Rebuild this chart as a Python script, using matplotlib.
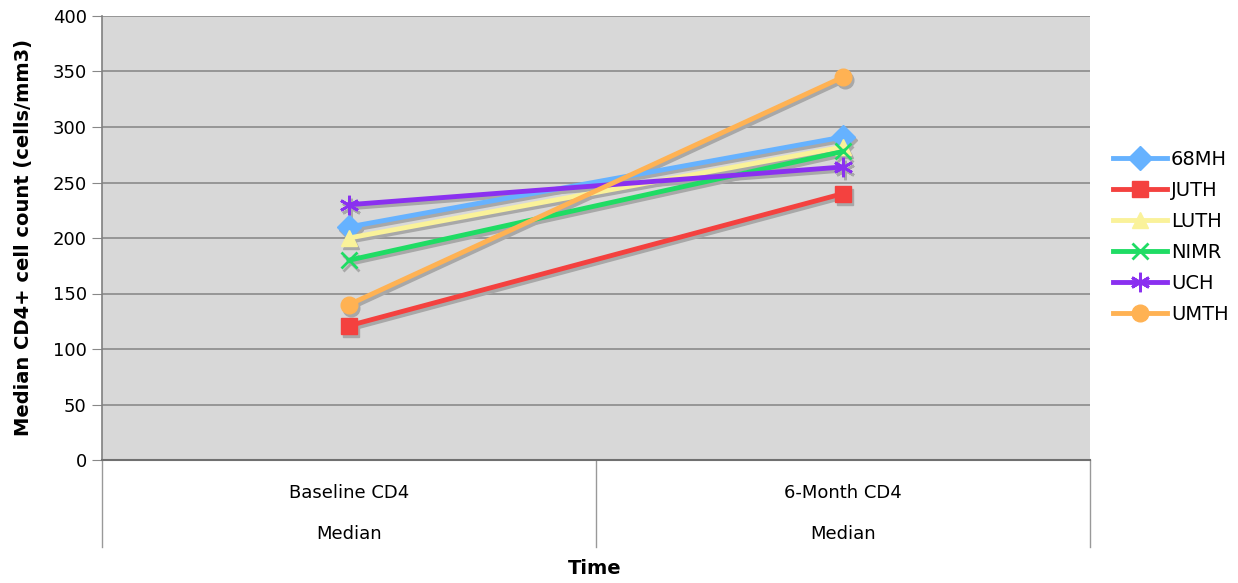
import matplotlib
matplotlib.use("Agg")
import matplotlib.pyplot as plt
import matplotlib.transforms as mtransforms
from matplotlib.lines import Line2D

plt.rcParams["font.family"] = ["DejaVu Sans"]

time_points = ["Baseline CD4", "6-Month CD4"]
sub_labels = ["Median", "Median"]
sites = ["68MH", "JUTH", "LUTH", "NIMR", "UCH", "UMTH"]
baseline = [210, 121, 200, 180, 230, 140]
month6 = [291, 240, 282, 278, 264, 345]
colors = ["#66b2ff", "#f4413f", "#faf29a", "#1fdc64", "#8a30f0", "#ffb253"]
markers = ["D", "s", "^", "x", (6, 2, 0), "o"]
y_ticks = [0, 50, 100, 150, 200, 250, 300, 350, 400]

fig = plt.figure(figsize=(12.38, 5.83), dpi=100)
ax = fig.add_axes([102 / 1238, 1 - 460 / 583, 988 / 1238, 444 / 583])
ax.set_facecolor("#d8d8d8")

x = list(range(len(time_points)))
shadow_tr = mtransforms.offset_copy(ax.transData, fig=fig, x=2, y=-3, units="dots")
handles = []
for name, b, m, c, mk in zip(sites, baseline, month6, colors, markers):
    ms = 14 if mk == (6, 2, 0) else 12
    mew = 2 if mk in ("x", (6, 2, 0)) else 1
    style = dict(lw=3.5, marker=mk, ms=ms, mew=mew)
    ax.plot(x, [b, m], color="#a8a8a8", mec="#a8a8a8", mfc="#a8a8a8", transform=shadow_tr,
            zorder=2, **style)
    ax.plot(x, [b, m], color=c, mec=c, mfc=c, zorder=3, **style)
    handles.append(Line2D([], [], color=c, mec=c, mfc=c, label=name, **style))

ax.set_xlim(-0.5, 1.5)
ax.set_ylim(0, 400)
ax.set_yticks(y_ticks)
ax.yaxis.grid(True, color="#8a8a8a", lw=1.2)
ax.set_axisbelow(True)
ax.tick_params(axis="y", labelsize=13, length=7, color="#888888", pad=4)
ax.tick_params(axis="x", bottom=False, labelbottom=False)
for s in ["top", "right"]:
    ax.spines[s].set_visible(False)
ax.spines["left"].set_color("#808080")
ax.spines["left"].set_linewidth(1.2)
ax.spines["bottom"].set_color("#707070")
ax.spines["bottom"].set_linewidth(1.5)

# category table under the axis
for xs in [-0.5, 0.5, 1.5]:
    ax.plot([xs, xs], [0, -0.196], transform=ax.get_xaxis_transform(), color="#999999",
            lw=1, clip_on=False)
for xi, lab, sub in zip(x, time_points, sub_labels):
    ax.text(xi, -0.074, lab, transform=ax.get_xaxis_transform(), ha="center", va="center", fontsize=13)
    ax.text(xi, -0.166, sub, transform=ax.get_xaxis_transform(), ha="center", va="center", fontsize=13)

fig.text(595 / 1238, 1 - 569 / 583, "Time", ha="center", va="center", fontsize=14, fontweight="bold")
fig.text(24 / 1238, 1 - 238 / 583, "Median CD4+ cell count (cells/mm3)", rotation=90,
         ha="center", va="center", fontsize=14, fontweight="bold")

fig.legend(handles=handles, loc="center left", bbox_to_anchor=(1099 / 1238, 1 - 237 / 583),
           frameon=False, fontsize=14, handlelength=2.8, labelspacing=0.62, handletextpad=0.2,
           borderaxespad=0.3)

fig.savefig("out.png", dpi=100)
